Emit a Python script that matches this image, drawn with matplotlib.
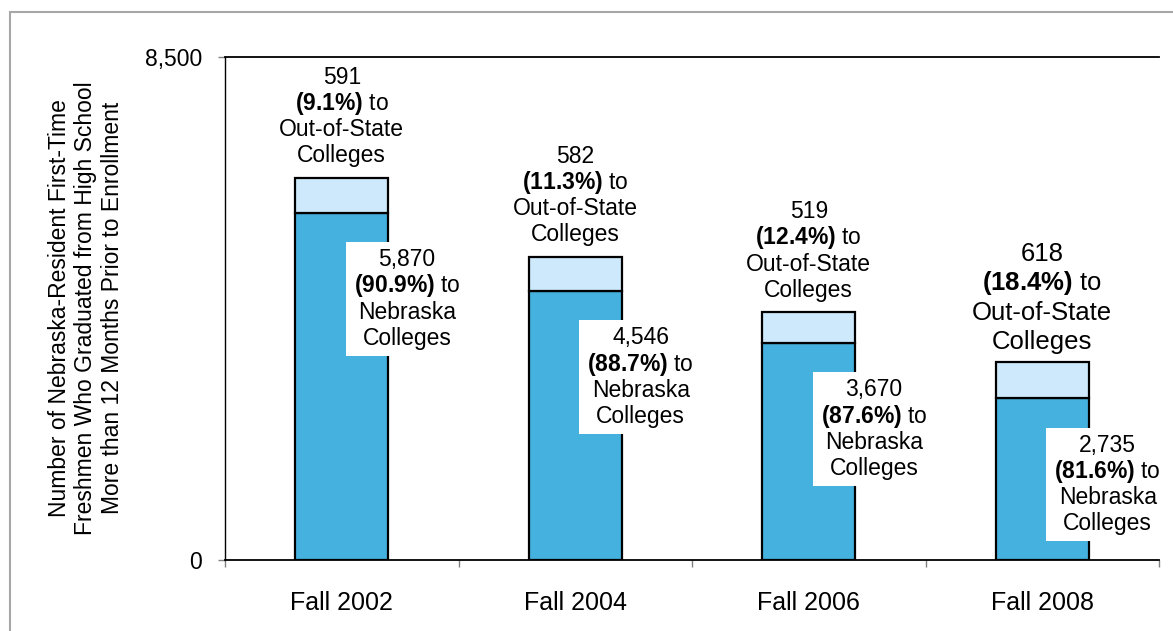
import numpy as np
import matplotlib
matplotlib.use("Agg")
import matplotlib.pyplot as plt
from matplotlib.patches import Rectangle
from matplotlib.transforms import Bbox, IdentityTransform

plt.rcParams['font.family'] = ['Liberation Sans', 'DejaVu Sans']
plt.rcParams['mathtext.fontset'] = 'custom'
plt.rcParams['mathtext.rm'] = 'Liberation Sans'
plt.rcParams['mathtext.bf'] = 'Liberation Sans:bold'

# ---- data ----
categories = ['Fall 2002', 'Fall 2004', 'Fall 2006', 'Fall 2008']
nebraska = [5870, 4546, 3670, 2735]
out_of_state = [591, 582, 519, 618]
nebraska_pct = [90.9, 88.7, 87.6, 81.6]
out_of_state_pct = [9.1, 11.3, 12.4, 18.4]
y_ticks = [0, 8500]
y_label = ("Number of Nebraska-Resident First-Time\n"
           "Freshmen Who Graduated from High School\n"
           "More than 12 Months Prior to Enrollment")

DARK = '#45B1DE'
LIGHT = '#CDE9FB'
FS = 16.5
LS = 1.145

fig = plt.figure(figsize=(11.73, 6.31), dpi=100)
ax = fig.add_axes([225 / 1173, 1 - 560 / 631, (1159 - 225) / 1173, (560 - 57) / 631])

x = np.arange(len(categories)) + 0.5
width = 0.40
ax.bar(x, nebraska, width, color=DARK, edgecolor='black', linewidth=1.6, zorder=2)
ax.bar(x, out_of_state, width, bottom=nebraska, color=LIGHT, edgecolor='black',
       linewidth=1.6, zorder=2)

ax.set_xlim(0, len(categories))
ax.set_ylim(0, 8500)

# spines
ax.spines['right'].set_visible(False)
ax.spines['top'].set_linewidth(1.3)
ax.spines['bottom'].set_linewidth(1.3)
ax.spines['left'].set_linewidth(1.0)

# y ticks
ax.set_yticks(y_ticks)
ax.set_yticklabels([f"{v:,}" for v in y_ticks], fontsize=FS)
ax.tick_params(axis='y', length=5, width=1, color='#808080', pad=11.5)

# x ticks: boundary marks + centered labels
ax.set_xticks(np.arange(len(categories) + 1))
ax.set_xticklabels([''] * (len(categories) + 1))
ax.tick_params(axis='x', which='major', length=5, width=1, color='#808080')
ax.set_xticks(x, minor=True)
ax.set_xticklabels(categories, minor=True, fontsize=18)
ax.tick_params(axis='x', which='minor', length=0, pad=22)

fig.text(86 / 1173, 1 - 308 / 631, y_label, rotation=90, ha='center', va='center',
         multialignment='center', fontsize=FS)


def draw_lines(xd, yd, lines, fs, first_off, direction):
    """Place each line separately with baseline alignment.
    direction=-1: lines go downward from first_off (points);
    direction=+1: last line baseline at first_off above anchor."""
    step = LS * fs
    n = len(lines)
    texts = []
    for k, line in enumerate(lines):
        if direction < 0:
            off = -first_off - k * step
        else:
            off = first_off + (n - 1 - k) * step
        t = ax.annotate(line, xy=(xd, yd), xytext=(0, off), textcoords='offset points',
                        ha='center', va='baseline', fontsize=fs, zorder=4)
        texts.append(t)
    return texts


renderer = fig.canvas.get_renderer()
for i in range(len(categories)):
    total = nebraska[i] + out_of_state[i]
    last = i == len(categories) - 1
    fs_top = 18.5 if last else FS
    gap_top = 9 if last else 11
    top_lines = [f"{out_of_state[i]:,}",
                 f"$\\mathbf{{({out_of_state_pct[i]}\\%)}}$ to",
                 "Out-of-State", "Colleges"]
    draw_lines(x[i], total, top_lines, fs_top, gap_top, +1)

    neb_lines = [f"{nebraska[i]:,}",
                 f"$\\mathbf{{({nebraska_pct[i]}\\%)}}$ to",
                 "Nebraska", "Colleges"]
    texts = draw_lines(x[i] + 0.28, nebraska[i], neb_lines, FS, 38.5, -1)
    bb = Bbox.union([t.get_window_extent(renderer) for t in texts])
    padx, pady = 8, 6
    ax.add_patch(Rectangle((bb.x0 - padx, bb.y0 - pady), bb.width + 2 * padx,
                           bb.height + 2 * pady, transform=IdentityTransform(),
                           facecolor='white', edgecolor='none', zorder=3))

# outer chart frame (partially outside the picture)
fig.add_artist(Rectangle((10 / 1173, -0.2), 1.5, 1 - 12 / 631 + 0.2,
                         transform=fig.transFigure, fill=False,
                         edgecolor='#A6A6A6', linewidth=1.5, clip_on=False))

fig.savefig('out.png', dpi=100)
